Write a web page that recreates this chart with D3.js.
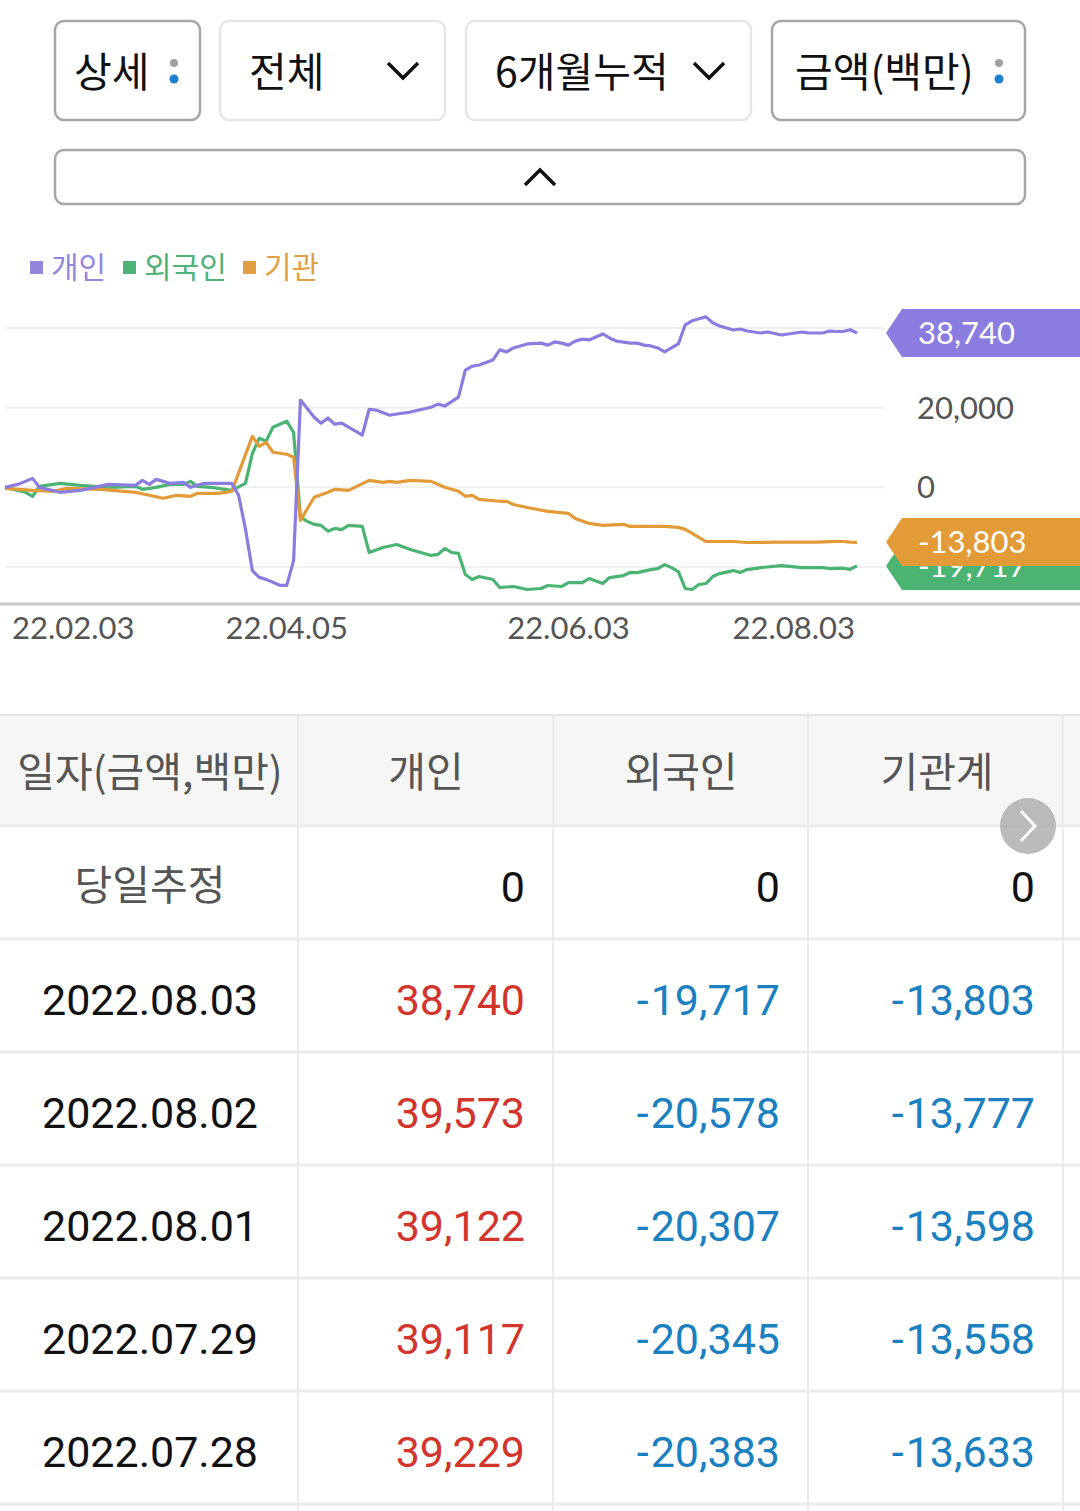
<!DOCTYPE html>
<html>
<head>
<meta charset="utf-8">
<script src="https://cdn.jsdelivr.net/npm/d3@7"></script>
<style>
  body { margin: 0; background: #fff; }
  svg { display: block; }
</style>
</head>
<body>
<div id="page"></div>
<script>
// series: [trading day index, cumulative net buy (백만)]
let personData = [[0,0],[2,800],[4,2250],[5,0],[8,-1250],[11,-750],[15,750],[19,500],[20,1750],[21,750],[22,2000],[24,1000],[26,1250],[27,0],[29,1000],[33,1000],[34,-2000],[35,-10500],[36,-20900],[37,-22600],[38,-23100],[40,-24600],[41,-24600],[42,-18400],[43,21900],[45,17600],[46,16100],[47,17400],[48,15850],[49,16100],[52,13100],[53,19600],[54,19400],[56,18100],[57,18400],[59,18900],[62,20100],[63,20900],[64,20400],[66,22650],[67,29400],[68,30400],[69,30700],[71,31950],[72,34500],[73,34000],[74,35000],[76,36000],[78,36200],[79,35700],[80,36500],[81,36200],[82,35700],[83,36700],[84,37200],[85,37000],[87,38500],[88,37500],[89,36700],[91,36200],[92,36200],[93,35700],[94,35500],[95,35000],[96,34000],[97,35000],[98,36000],[99,40800],[100,41800],[101,42300],[102,42800],[103,41300],[104,40500],[105,40000],[106,39500],[107,39750],[108,39250],[110,38750],[111,39000],[113,38250],[114,38500],[116,39000],[117,38750],[119,38750],[120,39229],[121,39117],[122,39122],[123,39573],[124,38740]]
let foreignData = [[0,0],[3,-1250],[4,-2300],[5,250],[8,1000],[11,500],[15,0],[19,250],[20,-500],[22,0],[24,750],[26,750],[27,1500],[28,250],[30,0],[33,-750],[35,1000],[36,8500],[37,12300],[38,11600],[39,15100],[41,16600],[42,13800],[43,-7500],[44,-8550],[45,-9300],[46,-9550],[47,-11000],[48,-10300],[49,-10600],[50,-9550],[52,-9800],[53,-16350],[55,-15100],[57,-14350],[59,-15600],[62,-17100],[63,-16850],[64,-15350],[65,-16350],[66,-16600],[67,-21900],[68,-23150],[69,-22400],[71,-23150],[72,-25150],[74,-24900],[76,-25650],[78,-25400],[79,-24650],[81,-24900],[82,-23900],[84,-23900],[85,-22900],[87,-24150],[88,-22650],[90,-22150],[91,-21400],[92,-21400],[94,-20650],[95,-20400],[96,-19400],[97,-20150],[98,-21150],[99,-25400],[100,-25650],[101,-24400],[102,-24150],[103,-22400],[104,-21650],[106,-20900],[107,-21400],[108,-20650],[110,-20150],[113,-19650],[116,-20150],[119,-20150],[120,-20383],[121,-20345],[122,-20307],[123,-20578],[124,-19717]]
let instData = [[0,-250],[4,-750],[7,-1000],[9,-250],[14,-500],[19,-1250],[21,-2000],[23,-2750],[25,-2000],[27,-2250],[28,-1500],[31,-1500],[33,-1000],[36,12800],[37,10300],[38,11300],[39,8800],[41,8300],[42,7550],[43,-8300],[45,-2500],[47,-1250],[48,-500],[50,-750],[53,1750],[55,1250],[56,1500],[57,1250],[59,1750],[62,1500],[64,0],[66,-1000],[67,-2250],[68,-2000],[69,-3000],[72,-3500],[73,-3500],[74,-4300],[76,-5050],[79,-6050],[82,-6550],[83,-7800],[85,-9050],[87,-9550],[90,-9300],[91,-9800],[96,-9800],[98,-10050],[99,-10550],[101,-12550],[102,-13600],[106,-13600],[108,-13850],[113,-13750],[118,-13750],[120,-13633],[121,-13558],[122,-13598],[123,-13777],[124,-13803]]

let seriesNames = ["개인", "외국인", "기관"]
let seriesColors = ["#8a7ddf", "#4bb473", "#e39b38"]
let legendColors = ["#9187dc", "#4fb277", "#e0a043"]

let xTickDays = [0, 41, 82, 124]
let xTickLabels = ["22.02.03", "22.04.05", "22.06.03", "22.08.03"]
let yGrid = [40000, 20000, 0, -20000]
let yTickLabels = [20000, 0] // the other two sit under the value flags

let buttonLabels = ["상세", "전체", "6개월누적", "금액(백만)"]

let tableHeader = ["일자(금액,백만)", "개인", "외국인", "기관계"]
let tableDates = ["2022.08.03", "2022.08.02", "2022.08.01", "2022.07.29", "2022.07.28"]
let tablePerson = [38740, 39573, 39122, 39117, 39229]
let tableForeign = [-19717, -20578, -20307, -20345, -20383]
let tableInst = [-13803, -13777, -13598, -13558, -13633]

let W = 1080, H = 1511
let kr = "'Noto Sans CJK KR', 'Noto Sans', sans-serif"
let num = "Roboto, 'Noto Sans', sans-serif"
let lato = "Lato, 'Noto Sans', sans-serif"
let fmt = v => d3.format(",")(Math.abs(v))

let svg = d3.select("#page").append("svg")
	.attr("width", W)
	.attr("height", H)

// ---- top buttons
let buttons = [
	{x: 55, w: 145, border: "#a6a6a6", icon: "dots", tx: 74},
	{x: 220, w: 225, border: "#e6e6e6", icon: "chev", tx: 249},
	{x: 466, w: 285, border: "#e6e6e6", icon: "chev", tx: 495},
	{x: 772, w: 253, border: "#a6a6a6", icon: "dots", tx: 795}
]
let btn = svg.selectAll("g.btn")
	.data(buttons)
	.enter()
	.append("g")
	.attr("class", "btn")

btn.append("rect")
	.attr("x", d => d.x)
	.attr("y", 21)
	.attr("width", d => d.w)
	.attr("height", 99)
	.attr("rx", 9)
	.attr("fill", "#fff")
	.attr("stroke", d => d.border)
	.attr("stroke-width", 2.5)

btn.append("text")
	.attr("x", d => d.tx)
	.attr("y", 87)
	.attr("font-family", kr)
	.attr("font-size", 41)
	.attr("fill", "#111")
	.text((d, i) => buttonLabels[i])

btn.each(function(d) {
	let g = d3.select(this)
	let right = d.x + d.w
	if (d.icon == "dots") {
		g.append("circle").attr("cx", right - 26).attr("cy", 63).attr("r", 4).attr("fill", "#a0a0a0")
		g.append("circle").attr("cx", right - 26).attr("cy", 79).attr("r", 4.5).attr("fill", "#1c7fd0")
	} else {
		let cx = right - 42
		g.append("path")
			.attr("d", `M${cx - 15},63 L${cx},78 L${cx + 15},63`)
			.attr("fill", "none")
			.attr("stroke", "#111")
			.attr("stroke-width", 3.5)
	}
})

// collapse bar
svg.append("rect")
	.attr("x", 55).attr("y", 150)
	.attr("width", 970).attr("height", 54)
	.attr("rx", 9)
	.attr("fill", "#fff")
	.attr("stroke", "#a6a6a6")
	.attr("stroke-width", 2.5)
svg.append("path")
	.attr("d", "M525,185 L540,170 L555,185")
	.attr("fill", "none")
	.attr("stroke", "#111")
	.attr("stroke-width", 3.5)

// ---- legend
let legendX = [30, 123, 243]
let legend = svg.selectAll("g.legend")
	.data(seriesNames)
	.enter()
	.append("g")
	.attr("class", "legend")
	.attr("transform", (d, i) => `translate(${legendX[i]},0)`)
legend.append("rect")
	.attr("x", 0).attr("y", 261)
	.attr("width", 13).attr("height", 13)
	.attr("fill", (d, i) => legendColors[i])
legend.append("text")
	.attr("x", 21).attr("y", 278)
	.attr("font-family", kr)
	.attr("font-size", 30)
	.attr("fill", (d, i) => legendColors[i])
	.text(d => d)

// ---- chart
let x = d3.scaleLinear().domain([0, 124]).range([5, 857])
let y = d3.scaleLinear().domain([-20000, 40000]).range([567, 328])

let chart = svg.append("g")

chart.selectAll("line.grid")
	.data(yGrid)
	.enter()
	.append("line")
	.attr("class", "grid")
	.attr("x1", 5).attr("x2", 885)
	.attr("y1", d => y(d)).attr("y2", d => y(d))
	.attr("stroke", "#efefef")
	.attr("stroke-width", 2)

chart.selectAll("text.ytick")
	.data(yTickLabels)
	.enter()
	.append("text")
	.attr("class", "ytick")
	.attr("x", 917)
	.attr("y", d => y(d) + 11)
	.attr("font-family", lato)
	.attr("font-size", 31)
	.attr("fill", "#555")
	.text(d => d3.format(",")(d))

chart.append("line")
	.attr("x1", 0).attr("x2", W)
	.attr("y1", 604).attr("y2", 604)
	.attr("stroke", "#c8c8c8")
	.attr("stroke-width", 3)

chart.selectAll("text.xtick")
	.data(xTickDays)
	.enter()
	.append("text")
	.attr("class", "xtick")
	.attr("x", (d, i) => i == 0 ? x(d) + 7 : i == xTickDays.length - 1 ? x(d) - 2 : x(d))
	.attr("y", 639)
	.attr("text-anchor", (d, i) => i == 0 ? "start" : i == xTickDays.length - 1 ? "end" : "middle")
	.attr("font-family", lato)
	.attr("font-size", 31)
	.attr("fill", "#555")
	.text((d, i) => xTickLabels[i])

let line = d3.line()
	.x(d => x(d[0]))
	.y(d => y(d[1]))

let allSeries = [personData, foreignData, instData]
// draw order: foreign, inst, person on top
let drawOrder = [1, 2, 0]
chart.selectAll("path.series")
	.data(drawOrder)
	.enter()
	.append("path")
	.attr("class", "series")
	.attr("d", i => line(allSeries[i]))
	.attr("fill", "none")
	.attr("stroke", i => seriesColors[i])
	.attr("stroke-width", 3.2)
	.attr("stroke-linejoin", "round")

// last-value flags, foreign tucked behind inst
let flagOrder = [0, 1, 2]
let flagY = [333, 566, 542]
let flags = chart.selectAll("g.flag")
	.data(flagOrder)
	.enter()
	.append("g")
	.attr("class", "flag")
	.attr("transform", i => `translate(0,${flagY[i]})`)
flags.append("path")
	.attr("d", "M886,0 L902,-24 L1080,-24 L1080,24 L902,24 Z")
	.attr("fill", i => seriesColors[i])
flags.append("text")
	.attr("x", 918)
	.attr("y", 11)
	.attr("font-family", lato)
	.attr("font-size", 31)
	.attr("fill", "#fff")
	.text(i => {
		let v = allSeries[i][allSeries[i].length - 1][1]
		return (v < 0 ? "-" : "") + fmt(v)
	})

// ---- table
let colX = [0, 298, 553, 808, 1063, 1080]
let rowTop = 715
let rowH = 113
let rows = tableDates.length + 2

let table = svg.append("g")
table.append("rect")
	.attr("x", 0).attr("y", rowTop)
	.attr("width", W).attr("height", 111)
	.attr("fill", "#f6f6f6")

d3.range(rows + 1).forEach(r => {
	table.append("line")
		.attr("x1", 0).attr("x2", W)
		.attr("y1", rowTop + r * rowH - (r > 0 ? 2 : 0))
		.attr("y2", rowTop + r * rowH - (r > 0 ? 2 : 0))
		.attr("stroke", r == 0 ? "#dcdcdc" : "#ebebeb")
		.attr("stroke-width", r == 0 ? 1.5 : 3)
})
colX.slice(1, 5).forEach(cx => {
	table.append("line")
		.attr("x1", cx).attr("x2", cx)
		.attr("y1", rowTop).attr("y2", H)
		.attr("stroke", "#ebebeb")
		.attr("stroke-width", 2)
})

let colCenter = [150, 426, 681, 937]
table.selectAll("text.head")
	.data(tableHeader)
	.enter()
	.append("text")
	.attr("class", "head")
	.attr("x", (d, i) => colCenter[i])
	.attr("y", 787)
	.attr("text-anchor", "middle")
	.attr("font-family", kr)
	.attr("font-size", 41)
	.attr("fill", "#555")
	.text(d => d)

// 당일추정 row
let estY = rowTop + rowH + 73
table.append("text")
	.attr("x", 150).attr("y", estY - 1)
	.attr("text-anchor", "middle")
	.attr("font-family", kr)
	.attr("font-size", 41)
	.attr("fill", "#555")
	.text("당일추정")
let valueRight = [525, 780, 1035]
valueRight.forEach(rx => {
	table.append("text")
		.attr("x", rx).attr("y", estY + 1)
		.attr("text-anchor", "end")
		.attr("font-family", num)
		.attr("font-size", 43)
		.attr("fill", "#111")
		.text("0")
})

let rowData = tableDates.map((d, i) => [d, tablePerson[i], tableForeign[i], tableInst[i]])
let dataRows = table.selectAll("g.row")
	.data(rowData)
	.enter()
	.append("g")
	.attr("class", "row")
	.attr("transform", (d, i) => `translate(0,${rowTop + (i + 2) * rowH + 74})`)

dataRows.append("text")
	.attr("x", 150)
	.attr("text-anchor", "middle")
	.attr("font-family", num)
	.attr("font-size", 43)
	.attr("fill", "#111")
	.text(d => d[0])

let vals = dataRows.selectAll("text.val")
	.data(d => d.slice(1))
	.enter()
	.append("text")
	.attr("class", "val")
	.attr("x", (d, i) => valueRight[i])
	.attr("text-anchor", "end")
	.attr("font-family", num)
	.attr("font-size", 43)
	.attr("fill", d => d > 0 ? "#d1352c" : d < 0 ? "#1a80c0" : "#111")

// the minus sits a little apart from the digits
vals.filter(d => d < 0).append("tspan").text("-")
vals.append("tspan")
	.attr("dx", d => d < 0 ? 2 : 0)
	.text(d => fmt(d))

// scroll hint button
svg.append("circle")
	.attr("cx", 1028).attr("cy", 826)
	.attr("r", 28)
	.attr("fill", "#b4b4b4")
	.attr("opacity", 0.9)
svg.append("path")
	.attr("d", "M1021,811 L1035,826 L1021,841")
	.attr("fill", "none")
	.attr("stroke", "#fff")
	.attr("stroke-width", 3)
</script>
</body>
</html>
